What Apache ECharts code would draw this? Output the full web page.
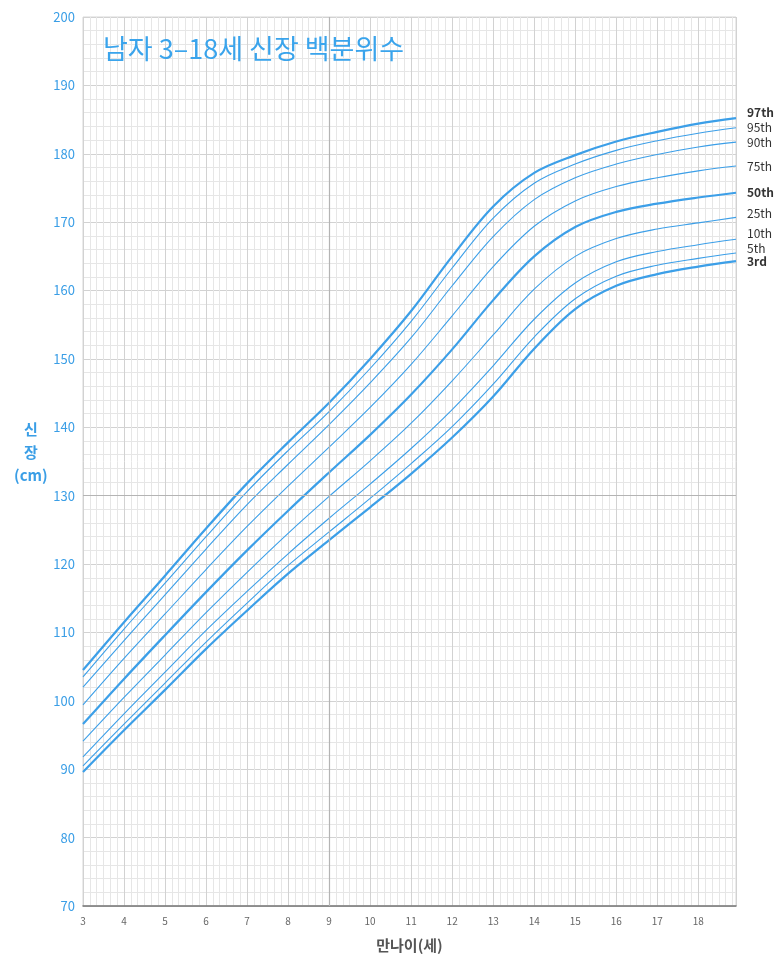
<!DOCTYPE html>
<html>
<head>
<meta charset="utf-8">
<script src="https://cdn.jsdelivr.net/npm/echarts@6/dist/echarts.min.js"></script>
<style>
html,body{margin:0;padding:0;background:#fff;}
#main{width:783px;height:962px;}
</style>
</head>
<body>
<div id="main"></div>
<script>
const ages = [3,4,5,6,7,8,9,10,11,12,13,14,15,16,17,18,18.92];
const p3  = [89.6, 95.7,101.6,107.6,113.2,118.6,123.5,128.3,133.2,138.5,144.5,151.5,157.3,160.7,162.4,163.5,164.3];
const p5  = [90.5, 96.6,102.6,108.6,114.3,119.8,124.7,129.6,134.7,140.1,146.3,153.2,158.8,162.1,163.7,164.7,165.5];
const p10 = [91.8, 98.1,104.2,110.3,116.0,121.5,126.7,131.7,136.9,142.6,149.0,155.8,161.1,164.2,165.7,166.7,167.5];
const p25 = [94.1,100.5,106.7,112.9,118.8,124.5,129.9,135.1,140.6,146.8,153.5,160.2,165.0,167.6,169.0,169.9,170.7];
const p50 = [96.6,103.2,109.6,115.9,122.0,127.8,133.4,138.9,144.8,151.4,158.6,165.0,169.3,171.5,172.7,173.6,174.3];
const p75 = [99.4,106.2,112.7,119.2,125.5,131.4,137.1,142.9,149.2,156.3,163.5,169.4,173.1,175.2,176.5,177.5,178.2];
const p90 = [102.0,108.8,115.5,122.2,128.7,134.6,140.4,146.5,153.1,160.7,167.9,173.3,176.5,178.5,179.9,181.0,181.7];
const p95 = [103.5,110.5,117.2,124.0,130.6,136.6,142.3,148.6,155.5,163.3,170.6,175.7,178.5,180.5,181.9,183.0,183.8];
const p97 = [104.5,111.5,118.3,125.2,131.8,137.8,143.6,150.0,157.0,165.0,172.3,177.2,179.8,181.8,183.2,184.4,185.2];
const xTicks = [3,4,5,6,7,8,9,10,11,12,13,14,15,16,17,18];
const yTicks = [70,80,90,100,110,120,130,140,150,160,170,180,190,200];

const FONT = "'Noto Sans CJK KR', 'Noto Sans', sans-serif";
const BLUE = '#3c9fe8';
const curves = [
  {name:'3rd',  d:p3,  bold:true,  dy:0},
  {name:'5th',  d:p5,  bold:false, dy:-4},
  {name:'10th', d:p10, bold:false, dy:-6},
  {name:'25th', d:p25, bold:false, dy:-4},
  {name:'50th', d:p50, bold:true,  dy:0},
  {name:'75th', d:p75, bold:false, dy:0},
  {name:'90th', d:p90, bold:false, dy:0},
  {name:'95th', d:p95, bold:false, dy:0},
  {name:'97th', d:p97, bold:true,  dy:-6}
];

const series = curves.map((c, idx) => ({
  type:'line', name:c.name, smooth:0.35, symbol:'none', silent:true,
  data: ages.map((a,i)=>[a, c.d[i]]),
  lineStyle:{color:BLUE, width:c.bold?2.2:1.1},
  endLabel:{show:true, formatter:c.name, color:'#333', fontSize:12, fontFamily:FONT,
    fontWeight:c.bold?'bold':'normal', distance:11, offset:[0,c.dy]},
  markLine: idx===0 ? {silent:true, symbol:'none', label:{show:false},
    lineStyle:{color:'#b4b4b4', width:1.2, type:'solid'},
    data:[{xAxis:9},{yAxis:130}]} : undefined,
  z: c.bold?3:2
}));

const chart = echarts.init(document.getElementById('main'), null, {renderer:'canvas'});
chart.setOption({
  animation:false,
  backgroundColor:'#fff',
  title:{text:'남자 3–18세 신장 백분위수', left:98, top:30,
    textStyle:{color:'#3aa4ec', fontSize:27, fontWeight:'normal', fontFamily:FONT}},
  grid:{left:83, right:47, top:17, bottom:56, show:true, borderColor:'#d6d6d6', borderWidth:1},
  xAxis:{type:'value', min:3, max:18.92, interval:1,
    name:'만나이(세)', nameLocation:'middle', nameGap:32,
    nameTextStyle:{color:'#555', fontSize:15, fontWeight:'bold', fontFamily:FONT},
    axisLine:{show:true, lineStyle:{color:'#777', width:1.5}},
    axisTick:{show:false},
    axisLabel:{color:'#666', fontSize:10, margin:10, fontFamily:FONT,
      formatter:v => xTicks.includes(v) ? String(v) : ''},
    splitLine:{show:true, lineStyle:{color:'#d2d2d2', width:1}},
    minorTick:{show:false, splitNumber:6},
    minorSplitLine:{show:true, lineStyle:{color:'#e6e6e6', width:1}}
  },
  yAxis:{type:'value', min:70, max:200, interval:10,
    axisLine:{show:false}, axisTick:{show:false},
    axisLabel:{color:'#3a9ee6', fontSize:13, margin:8, fontFamily:FONT,
      formatter:v => yTicks.includes(v) ? String(v) : ''},
    splitLine:{show:true, lineStyle:{color:'#d2d2d2', width:1}},
    minorTick:{show:false, splitNumber:5},
    minorSplitLine:{show:true, lineStyle:{color:'#e6e6e6', width:1}}
  },
  graphic:[{type:'text', left:14, top:418,
    style:{text:'신\n장\n(cm)', fill:'#3a9ee6', font:"bold 15px "+FONT, textAlign:'center', lineHeight:23, x:16}}],
  series: series
});
</script>
</body>
</html>
